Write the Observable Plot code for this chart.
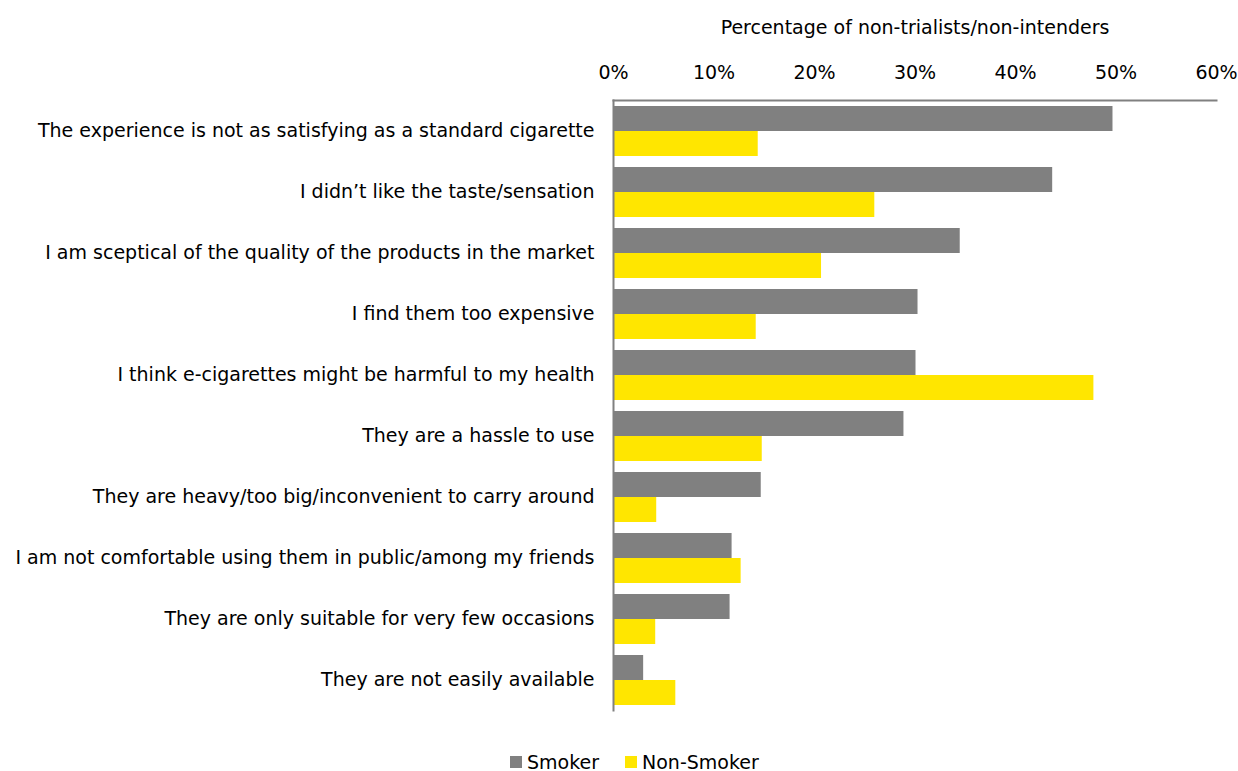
<!DOCTYPE html>
<html><head><meta charset="utf-8">
<script src="https://cdn.jsdelivr.net/npm/d3@7"></script>
<script src="https://cdn.jsdelivr.net/npm/@observablehq/plot@0.6"></script>
<style>
body{margin:0;background:#fff;}
#legend{display:flex;align-items:center;margin-left:510px;margin-top:21px;font-family:"DejaVu Sans",sans-serif;font-size:19px;color:#000;line-height:22px;}
#legend .sw{display:inline-block;width:12px;height:12px;margin-right:5px;}
#legend .item{display:flex;align-items:center;margin-right:26px;}
</style></head><body><div id="chart"></div><div id="legend"></div>
<script>
const categories = [
  "The experience is not as satisfying as a standard cigarette",
  "I didn\u2019t like the taste/sensation",
  "I am sceptical of the quality of the products in the market",
  "I find them too expensive",
  "I think e-cigarettes might be harmful to my health",
  "They are a hassle to use",
  "They are heavy/too big/inconvenient to carry around",
  "I am not comfortable using them in public/among my friends",
  "They are only suitable for very few occasions",
  "They are not easily available"
];
const series = ["Smoker", "Non-Smoker"];
const smoker = [49.7, 43.7, 34.5, 30.3, 30.1, 28.9, 14.7, 11.8, 11.6, 3.0];
const nonSmoker = [14.4, 26.0, 20.7, 14.2, 47.8, 14.8, 4.3, 12.7, 4.2, 6.2];
const xTicks = [0, 10, 20, 30, 40, 50, 60];
const colors = ["#808080", "#FFE600"];

const data = categories.flatMap((c, i) => [
  {category: c, series: series[0], value: smoker[i]},
  {category: c, series: series[1], value: nonSmoker[i]}
]);

const font = "'DejaVu Sans', sans-serif";
const chart = Plot.plot({
  width: 1238, height: 730,
  marginTop: 98, marginLeft: 613, marginRight: 22, marginBottom: 18,
  style: {fontFamily: font, fontSize: "19px", color: "#000", background: "#fff"},
  x: {domain: [0, 60], ticks: xTicks, tickFormat: d => d + "%", axis: "top",
      label: "Percentage of non-trialists/non-intenders", labelAnchor: "center", labelArrow: "none",
      tickSize: 0, tickPadding: 22, labelOffset: 80},
  y: {domain: series, paddingInner: 0, paddingOuter: 0.2, axis: null},
  fy: {domain: categories, padding: 0, axis: "left", label: null, tickSize: 0, tickPadding: 19},
  color: {domain: series, range: colors},
  marks: [
    Plot.barX(data, {x: "value", y: "series", fy: "category", fill: "series"}),
    Plot.frame({anchor: "top", facet: "super", stroke: "#808080", strokeWidth: 2}),
    Plot.frame({anchor: "left", facet: "super", stroke: "#808080", strokeWidth: 2})
  ]
});
document.getElementById("chart").appendChild(chart);

const legend = document.getElementById("legend");
series.forEach((s, i) => {
  const item = document.createElement("div");
  item.className = "item";
  const sw = document.createElement("span");
  sw.className = "sw";
  sw.style.background = colors[i];
  item.appendChild(sw);
  item.appendChild(document.createTextNode(s));
  legend.appendChild(item);
});
</script>
</body></html>
